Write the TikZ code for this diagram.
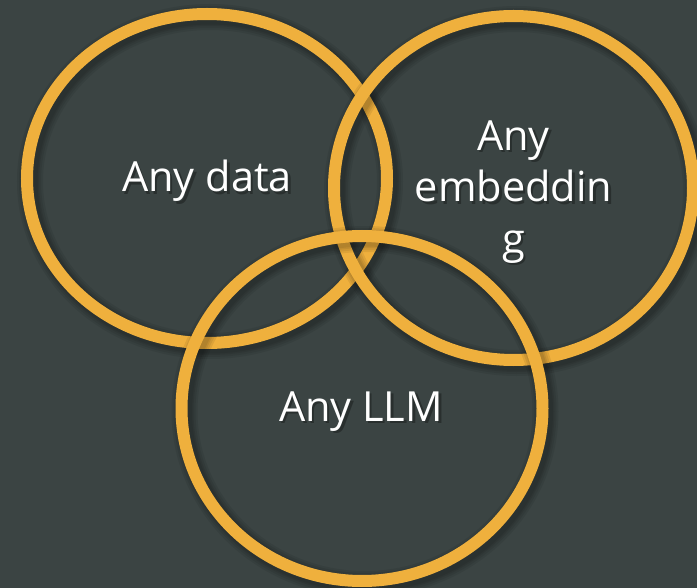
\documentclass[tikz,border=0pt]{standalone}
\usepackage{fontspec}
\setmainfont{Open Sans}
\definecolor{slatebg}{HTML}{3B4443}
\definecolor{ringgold}{HTML}{EFB03D}

\tikzset{
  ringline/.style={draw=ringgold, line width=12pt},
  ringshade/.style={draw=black, draw opacity=0.07},
  venntext/.style={text=white, font=\fontsize{41.5}{51.5}\selectfont, inner sep=0pt, align=center},
  venntextshadow/.style={venntext, text=black, text opacity=0.3},
}

% a gold ring with a soft shadow cast down and to the right
% #1 cx, #2 cy, #3 x radius, #4 y radius
\newcommand\goldring[4]{%
  \foreach \w in {26,22,18,15}{%
    \draw[ringshade, line width=\w pt] ([xshift=3pt,yshift=-3pt]#1,#2) ellipse [x radius=#3pt, y radius=#4pt];
  }%
  \draw[ringline] (#1,#2) ellipse [x radius=#3pt, y radius=#4pt];
}

% a text with a small drop shadow
% #1 name, #2 position, #3 anchor, #4 text
\newcommand\shadowtext[4]{%
  \node[venntextshadow, anchor=#3, xshift=2.5pt, yshift=-2.5pt] at #2 {#4};
  \node[venntext, anchor=#3] (#1) at #2 {#4};
}

\begin{document}
\begin{tikzpicture}[x=1pt, y=-1pt]
  \fill[slatebg] (0,0) rectangle (697,588);
  \useasboundingbox (0,0) rectangle (697,588);
  \clip (0,0) rectangle (697,588);

  \goldring{207}{178.5}{180}{164.5}
  \goldring{513.5}{188}{179.5}{172}
  \goldring{362}{408.5}{180.5}{172.5}

  \shadowtext{data}{(207,192)}{base}{Any data}
  \shadowtext{embed}{(513.5,192)}{center}{Any\\embeddin\\g}
  \shadowtext{llm}{(361,421)}{base}{Any LLM}
\end{tikzpicture}
\end{document}
